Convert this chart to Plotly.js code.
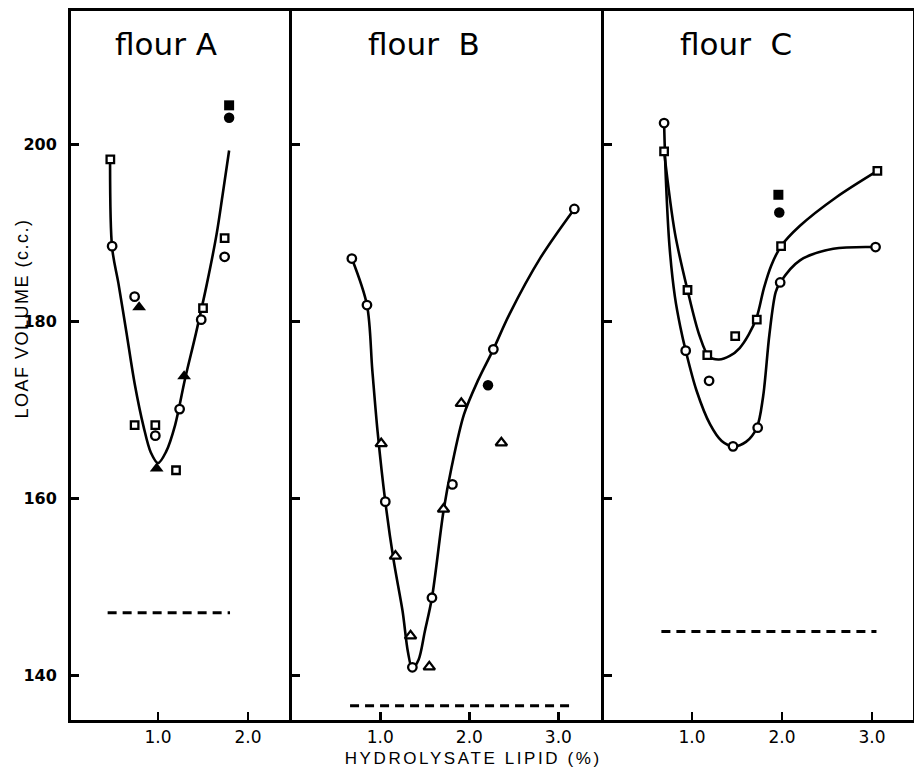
<!DOCTYPE html>
<html>
<head>
<meta charset="utf-8">
<script src="https://cdn.plot.ly/plotly-3.0.1.min.js"></script>
<style>
html,body{margin:0;padding:0;background:#fff;}
#chart{width:914px;height:769px;}
g.annotation[data-index="3"] text{letter-spacing:2.6px;}
g.annotation[data-index="4"] text{letter-spacing:1.5px;}
</style>
</head>
<body>
<div id="chart"></div>
<script>
// ---------- Flour A ----------
var A_circle_x = [0.49, 0.74, 0.97, 1.24, 1.48, 1.74];
var A_circle_y = [188.5, 182.8, 167.1, 170.1, 180.2, 187.3];
var A_square_x = [0.47, 0.74, 0.97, 1.20, 1.50, 1.74];
var A_square_y = [198.3, 168.3, 168.3, 163.2, 181.5, 189.4];
var A_ftri_x = [0.79, 0.985, 1.29];
var A_ftri_y = [181.6, 163.4, 173.8];
var A_fsquare_x = [1.79];
var A_fsquare_y = [204.4];
var A_fcircle_x = [1.79];
var A_fcircle_y = [203.0];
var A_curve_x = [0.467, 0.49, 0.56, 0.65, 0.74, 0.84, 0.92, 1.00, 1.09, 1.19, 1.30, 1.42, 1.54, 1.65, 1.715, 1.79];
var A_curve_y = [197.8, 188.3, 184.3, 178.7, 173.0, 168.1, 165.2, 164.0, 165.3, 168.3, 173.5, 178.6, 184.1, 189.8, 194.1, 199.3];
var A_control_x = [0.44, 1.80];
var A_control_y = [147.1, 147.1];

// ---------- Flour B ----------
var B_circle_x = [0.68, 0.85, 1.056, 1.36, 1.58, 1.81, 2.27, 3.18];
var B_circle_y = [187.1, 181.85, 159.65, 140.95, 148.8, 161.6, 176.85, 192.7];
var B_tri_x = [1.01, 1.17, 1.34, 1.55, 1.71, 1.91, 2.36];
var B_tri_y = [166.2, 153.5, 144.5, 141.0, 158.8, 170.75, 166.3];
var B_fcircle_x = [2.21];
var B_fcircle_y = [172.8];
var B_curve_x = [0.68, 0.85, 0.91, 0.97, 1.056, 1.15, 1.25, 1.31, 1.36, 1.43, 1.50, 1.58, 1.71, 1.80, 1.94, 2.10, 2.27, 2.45, 2.80, 3.18];
var B_curve_y = [187.1, 181.85, 174.5, 167.5, 159.65, 153.0, 147.3, 142.7, 140.8, 141.8, 145.0, 148.8, 158.6, 163.5, 169.5, 173.4, 176.85, 180.8, 187.2, 192.7];
var B_control_x = [0.66, 3.15];
var B_control_y = [136.6, 136.6];

// ---------- Flour C ----------
var C_circle_x = [0.69, 0.93, 1.19, 1.456, 1.73, 1.98, 3.04];
var C_circle_y = [202.4, 176.7, 173.3, 165.9, 168.0, 184.4, 188.4];
var C_square_x = [0.69, 0.95, 1.17, 1.48, 1.72, 1.99, 3.06];
var C_square_y = [199.2, 183.55, 176.2, 178.35, 180.2, 188.5, 197.0];
var C_fsquare_x = [1.96];
var C_fsquare_y = [194.3];
var C_fcircle_x = [1.97];
var C_fcircle_y = [192.3];
var C_sqcurve_x = [0.69, 0.81, 0.95, 1.08, 1.19, 1.30, 1.42, 1.53, 1.63, 1.72, 1.80, 1.88, 1.99, 2.20, 2.60, 3.06];
var C_sqcurve_y = [199.2, 190.0, 183.55, 178.5, 176.0, 175.7, 176.1, 177.0, 178.5, 180.5, 183.8, 186.3, 188.5, 190.8, 194.0, 197.0];
var C_cicurve_x = [0.69, 0.71, 0.75, 0.81, 0.87, 0.93, 1.05, 1.20, 1.33, 1.456, 1.60, 1.72, 1.79, 1.86, 1.93, 1.98, 2.20, 2.57, 3.04];
var C_cicurve_y = [202.4, 196.0, 188.5, 182.8, 179.4, 176.7, 172.2, 168.4, 166.5, 165.9, 166.4, 168.0, 171.5, 178.5, 183.3, 184.4, 186.9, 188.2, 188.4];
var C_control_x = [0.66, 3.05];
var C_control_y = [145.0, 145.0];

// ---------- axis / label text ----------
var yTickVals = [140, 160, 180, 200];
var yTickText = ['140', '160', '180', '200'];
var xTickValsA = [1, 2];
var xTickValsBC = [1, 2, 3];
var xTickTextA = ['1.0', '2.0'];
var xTickTextBC = ['1.0', '2.0', '3.0'];
var panelTitles = ['flour A', 'flour\u00a0\u00a0B', 'flour\u00a0\u00a0C'];
var xTitle = 'HYDROLYSATE LIPID (%)';
var yTitle = 'LOAF VOLUME (c.c.)';

var K = '#000';
function curve(x, y, xa, ya) {
  return {x: x, y: y, xaxis: xa, yaxis: ya, mode: 'lines', type: 'scatter',
    line: {color: K, width: 2.6, shape: 'spline', smoothing: 0.9}, hoverinfo: 'skip'};
}
function dashed(x, y, xa, ya) {
  return {x: x, y: y, xaxis: xa, yaxis: ya, mode: 'lines', type: 'scatter',
    line: {color: K, width: 3, dash: '9px,6px'}, hoverinfo: 'skip'};
}
function pts(x, y, xa, ya, sym, size, filled) {
  return {x: x, y: y, xaxis: xa, yaxis: ya, mode: 'markers', type: 'scatter',
    marker: {symbol: sym, size: size, color: filled ? K : '#fff',
      line: {color: K, width: filled ? 0 : 2.3}}, hoverinfo: 'skip'};
}

var data = [
  curve(A_curve_x, A_curve_y, 'x', 'y'),
  dashed(A_control_x, A_control_y, 'x', 'y'),
  pts(A_circle_x, A_circle_y, 'x', 'y', 'circle', 8.5, false),
  pts(A_square_x, A_square_y, 'x', 'y', 'square', 7.5, false),
  pts(A_ftri_x, A_ftri_y, 'x', 'y', 'triangle-up', 12, true),
  pts(A_fsquare_x, A_fsquare_y, 'x', 'y', 'square', 10, true),
  pts(A_fcircle_x, A_fcircle_y, 'x', 'y', 'circle', 10.5, true),

  curve(B_curve_x, B_curve_y, 'x2', 'y2'),
  dashed(B_control_x, B_control_y, 'x2', 'y2'),
  pts(B_circle_x, B_circle_y, 'x2', 'y2', 'circle', 8.5, false),
  pts(B_tri_x, B_tri_y, 'x2', 'y2', 'triangle-up', 10, false),
  pts(B_fcircle_x, B_fcircle_y, 'x2', 'y2', 'circle', 10.5, true),

  curve(C_sqcurve_x, C_sqcurve_y, 'x3', 'y3'),
  curve(C_cicurve_x, C_cicurve_y, 'x3', 'y3'),
  dashed(C_control_x, C_control_y, 'x3', 'y3'),
  pts(C_circle_x, C_circle_y, 'x3', 'y3', 'circle', 8.5, false),
  pts(C_square_x, C_square_y, 'x3', 'y3', 'square', 7.5, false),
  pts(C_fsquare_x, C_fsquare_y, 'x3', 'y3', 'square', 10, true),
  pts(C_fcircle_x, C_fcircle_y, 'x3', 'y3', 'circle', 10.5, true)
];

var tickFontX = {family: 'DejaVu Sans', size: 17, color: K};
function xax(domain, range, vals, text, anchor) {
  return {domain: domain, range: range, anchor: anchor, tickmode: 'array',
    tickvals: vals, ticktext: text, ticks: 'inside', ticklen: 8, tickwidth: 2.6,
    tickcolor: K, showline: true, linecolor: K, linewidth: 3, mirror: true,
    showgrid: false, zeroline: false, tickfont: tickFontX, ticklabelstandoff: 0, fixedrange: true};
}
function yax(anchor, showLabels, mirror) {
  return {domain: [0, 1], range: [135, 215.05], anchor: anchor, tickmode: 'array',
    tickvals: yTickVals, ticktext: yTickText, ticks: 'inside', ticklen: 8, tickwidth: 2.6,
    tickcolor: K, showline: true, linecolor: K, linewidth: 3, mirror: mirror,
    showgrid: false, zeroline: false, showticklabels: showLabels,
    tickfont: {family: 'DejaVu Sans', size: 16, color: K, weight: 'bold'},
    ticklabelstandoff: 8, fixedrange: true};
}

var titleFont = {family: 'DejaVu Sans', size: 31, color: K};
var layout = {
  width: 914, height: 769,
  margin: {l: 71, r: 1, t: 11, b: 49},
  paper_bgcolor: '#fff', plot_bgcolor: '#fff',
  showlegend: false,
  xaxis: xax([0, 0.2625], [0.033, 2.489], xTickValsA, xTickTextA, 'y'),
  xaxis2: xax([0.2625, 0.633], [0.008, 3.513], xTickValsBC, xTickTextBC, 'y2'),
  xaxis3: xax([0.633, 1], [0.022, 3.456], xTickValsBC, xTickTextBC, 'y3'),
  yaxis: yax('x', true, false),
  yaxis2: yax('x2', false, false),
  yaxis3: yax('x3', false, true),
  annotations: [
    {text: panelTitles[0], xref: 'paper', yref: 'paper', x: 0.1128, y: 0.9535, xanchor: 'center', yanchor: 'middle', showarrow: false, font: titleFont},
    {text: panelTitles[1], xref: 'paper', yref: 'paper', x: 0.419, y: 0.9535, xanchor: 'center', yanchor: 'middle', showarrow: false, font: titleFont},
    {text: panelTitles[2], xref: 'paper', yref: 'paper', x: 0.79, y: 0.9535, xanchor: 'center', yanchor: 'middle', showarrow: false, font: titleFont},
    {text: xTitle, xref: 'paper', yref: 'paper', x: 0.478, y: -0.0536, xanchor: 'center', yanchor: 'middle', showarrow: false,
      font: {family: 'Liberation Sans', size: 17, color: K}},
    {text: yTitle, xref: 'paper', yref: 'paper', x: -0.0582, y: 0.567, xanchor: 'center', yanchor: 'middle', showarrow: false, textangle: -90,
      font: {family: 'Liberation Sans', size: 18, color: K}}
  ]
};

Plotly.newPlot('chart', data, layout, {displayModeBar: false, staticPlot: true});
</script>
</body>
</html>
